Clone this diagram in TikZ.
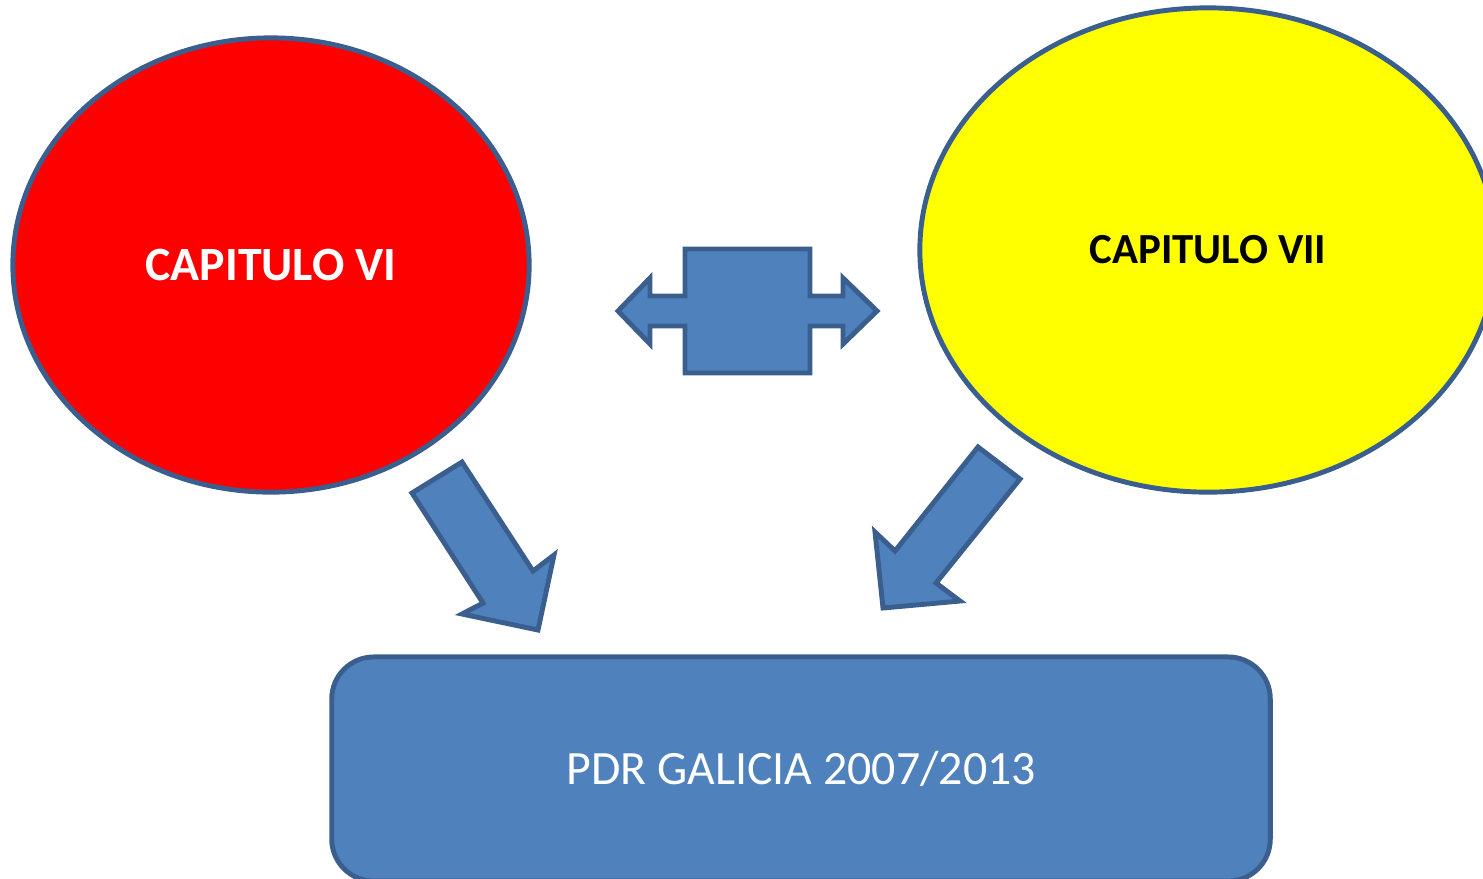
\documentclass[tikz,border=0pt]{standalone}
\usepackage{fontspec}
\setmainfont{Carlito}
\usetikzlibrary{shapes.geometric}

\definecolor{blockfill}{HTML}{4F81BD}
\definecolor{blockline}{HTML}{3A5F8F}
\definecolor{capred}{HTML}{FF0000}
\definecolor{capyellow}{HTML}{FFFF00}

\begin{document}
\begin{tikzpicture}[
	x=0.01cm, y=-0.01cm,
	line join=miter,
	chapter/.style={
		ellipse, draw=blockline, line width=1.4pt,
		inner sep=0pt, font=\bfseries
	},
	plan/.style={
		rectangle, rounded corners=0.42cm,
		draw=blockline, fill=blockfill, line width=1.4pt,
		minimum width=9.38cm, minimum height=2.24cm,
		text=white, font=\fontsize{13.6pt}{16pt}\selectfont
	},
	blockarr/.style={draw=blockline, fill=blockfill, line width=1.4pt}
]
\useasboundingbox (0,0) rectangle (1483,878);
\clip (0,0) rectangle (1483,878);

% Chapters
\node[chapter, fill=capred, text=white, minimum width=5.16cm, minimum height=4.54cm]
	(cap6) at (271,265) {\fontsize{13.6pt}{16pt}\selectfont CAPITULO VI};
\node[chapter, fill=capyellow, text=black, minimum width=5.76cm, minimum height=4.84cm]
	(cap7) at (1208,250) {\fontsize{12.2pt}{15pt}\selectfont CAPITULO VII};

% Programme box
\node[plan] (pdr) at (801,769) {\raisebox{-3pt}{PDR GALICIA 2007/2013}};

% Two-way arrow between chapters
\draw[blockarr] (618,311) -- (650,278) -- (650,296) -- (685,296) -- (685,249)
	-- (810,249) -- (810,296) -- (843,296) -- (843,278) -- (877,311)
	-- (843,344) -- (843,326) -- (810,326) -- (810,373) -- (685,373)
	-- (685,326) -- (650,326) -- (650,344) -- cycle;

% Down-right arrow from CAPITULO VI
\draw[blockarr] (412,493) -- (462,462) -- (533,571) -- (554,555) -- (538,630)
	-- (462,614) -- (483,603) -- cycle;

% Down-left arrow from CAPITULO VII
\draw[blockarr] (978,447) -- (1020,479) -- (936,583) -- (960,601) -- (883,608)
	-- (875,532) -- (895,551) -- cycle;

\end{tikzpicture}
\end{document}
